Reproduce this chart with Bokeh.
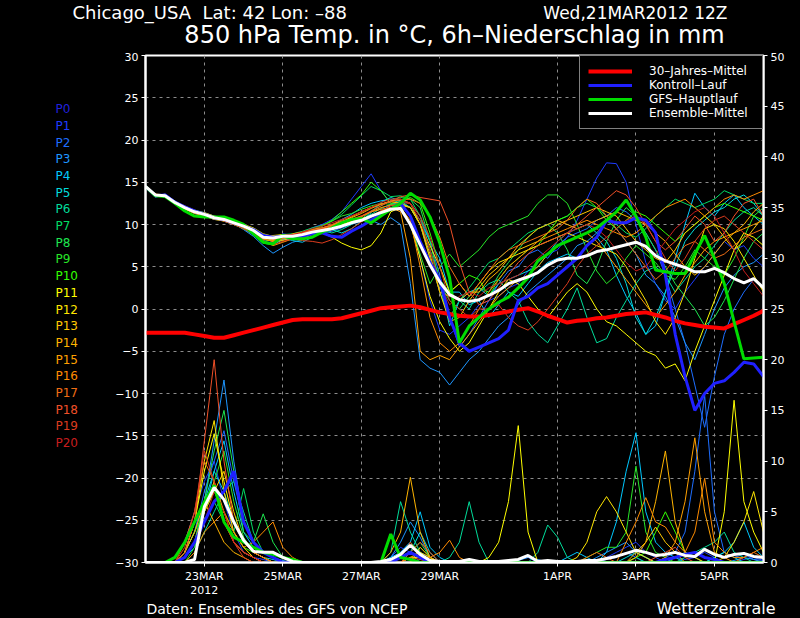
from bokeh.plotting import figure
from bokeh.layouts import column, row
from bokeh.models import Range1d, LinearAxis, FixedTicker, Legend, LegendItem
from bokeh.core.properties import value
from bokeh.embed import file_html
from bokeh.resources import INLINE

# ---------------- data ----------------
STEP_HOURS = 6
N_STEPS = 64
HOURS = [STEP_HOURS * i for i in range(N_STEPS)]  # 21MAR2012 12Z + h

DATE_TICKS = [36, 84, 132, 180, 252, 300, 348]
DATE_LABELS = ["23MAR", "25MAR", "27MAR", "29MAR", "1APR", "3APR", "5APR"]
YEAR_TICK = 36
YEAR_LABEL = "2012"
TEMP_TICKS = list(range(-30, 31, 5))
PRECIP_TICKS = list(range(0, 51, 5))

MEMBER_NAMES = ["P%d" % i for i in range(21)]
MEMBER_COLORS = ["#2020dc", "#1e3cff", "#1e6eff", "#1e96ff", "#00c8ff", "#00dcdc",
                 "#00dc9a", "#00dc64", "#1ee650", "#28e628", "#32ff00", "#ffff00",
                 "#ffe600", "#ffc800", "#ffb400", "#ffa000", "#ff8c00", "#f06e14",
                 "#f05028", "#dc3c1e", "#c81e1e"]

CLIMATE_T = [-2.8, -2.8, -2.8, -2.8, -2.8, -3.0, -3.2, -3.4, -3.4, -3.1, -2.8, -2.5, -2.2, -1.9, -1.6, -1.3,
             -1.2, -1.2, -1.2, -1.2, -1.1, -0.8, -0.5, -0.2, 0.1, 0.2, 0.3, 0.4, 0.2, -0.1, -0.4, -0.6,
             -0.8, -0.9, -0.9, -0.7, -0.5, -0.3, -0.1, 0.1, -0.3, -0.8, -1.2, -1.6, -1.4, -1.3, -1.1, -1.0,
             -0.8, -0.6, -0.5, -0.4, -0.7, -1.0, -1.4, -1.7, -1.9, -2.1, -2.2, -2.3, -1.8, -1.3, -0.8, -0.2]

MEAN_T = [14.5, 13.5, 13.4, 12.6, 12.0, 11.5, 11.2, 10.8, 10.6, 10.2, 9.8, 9.3, 8.5, 8.4, 8.6, 8.6,
          8.8, 9.1, 9.3, 9.5, 9.8, 10.2, 10.5, 11.0, 11.4, 11.8, 11.9, 10.0, 7.6, 5.2, 3.2, 1.7,
          1.1, 0.9, 1.1, 1.6, 2.2, 3.0, 3.4, 3.8, 4.3, 5.2, 5.8, 6.0, 6.0, 6.3, 6.8, 7.0,
          7.3, 7.6, 7.9, 7.4, 6.3, 5.7, 5.3, 4.9, 4.4, 4.4, 4.8, 4.3, 3.6, 3.1, 3.6, 2.5]

CONTROL_T = [14.5, 13.4, 13.5, 12.6, 12.1, 11.6, 11.2, 10.8, 10.6, 10.2, 9.8, 9.4, 8.7, 8.5, 8.6, 8.5,
             8.6, 8.9, 9.0, 8.6, 8.5, 9.2, 9.8, 10.5, 11.2, 11.8, 12.5,
             11, 8, 5.5, 3.5, -1, -4, -5, -4.5, -4, -3.5, -2.5, 1, 1.5, 2.5, 3, 4, 5, 6, 7.5, 8.5,
             10.5, 10.2, 10.2, 10.8, 10.5, 9, 4, -3, -8, -12, -10, -8.8, -8.5, -7.5, -6.3, -6.5, -8]

GFS_T = [14.5, 13.4, 13.3, 12.5, 11.6, 11.0, 10.9, 10.9, 10.9, 10.5, 10.0, 8.9, 7.9, 7.7, 8.7, 8.3,
         8.3, 8.5, 9.1, 9.6, 10.2, 10.6, 10.7, 10.2, 11.0, 11.8, 12.5,
         13.7, 12.9, 10.9, 7.8, 3.7, -4, -2, -1, 0, 0.8, 1.4, 2.5, 3.7, 5.7, 6.5, 7.5, 8, 8.5, 9, 9.6,
         10.5, 11.5, 12.9, 11, 8.5, 4.6, 4.4, 4.2, 4.2, 6.5, 8.7, 6, 3, -1.5, -5.9, -5.8, -5.7]

T_P1 = [14.5, 13.2, 13.6, 12.8, 12.2, 11.4, 11.0, 10.9, 10.4, 10.0, 9.6, 9.0, 8.2, 8.0, 8.9, 8.7, 9.0, 9.6, 10.0, 10.6, 11.5, 13.0, 14.5, 16.0, 14.0, 12.5, 12.2,
        11, 6, 1, -2.5, -3, -2, -1, 0.5, 1, 1.5, 2.5, 3, 4.5, 5.5, 6.5, 7, 8.5, 10.5, 13, 15.5, 17.3, 17.2, 15, 10, 5.5, 3, 1, 0, 2, 3.5, 5, 6.5, 8, 7, 7.5, 6, 5]
T_P2 = [14.5, 13.4, 13.3, 12.4, 11.8, 11.6, 11.1, 10.6, 10.5, 10.3, 9.9, 9.4, 8.0, 7.8, 8.3, 8.5, 8.6, 9.0, 9.0, 9.2, 9.6, 10.0, 10.4, 10.8, 11.6, 12.3, 12.8,
        12.5, 11, 8, 4, -1, -4.5, -3, -1, 1, 3, 4.5, 5, 6.5, 7, 6, 7.5, 8.5, 9, 9.5, 10.5, 11, 12, 11.5, 10.5, 9, 7, 4, 0, -4, -9, -14, -8, -3, 0, 2, 3.5, 2.5]
T_P3 = [14.5, 13.6, 13.2, 12.5, 11.9, 11.3, 11.0, 10.7, 10.7, 10.1, 9.4, 8.6, 7.5, 6.6, 7.3, 7.9, 8.2, 8.9, 9.1, 9.4, 9.9, 10.3, 10.6, 10.5, 10.0, 10.8, 10.0,
        3, -6, -7, -7.5, -9, -7.5, -6, -5, -3.5, -2, -1, 0.5, 2, 3, 4, 5, 6, 7.5, 8, 9, 10.5, 9.5, 8, 6.5, 4, 3, 1.5, -1, -4, -6, -3, 0, 2.5, 4, 5, 5.5, 6.5]
T_P4 = [14.5, 13.5, 13.5, 12.7, 12.1, 11.7, 11.4, 11.0, 10.8, 10.4, 9.9, 9.5, 8.8, 8.3, 8.4, 8.1, 7.9, 8.5, 9.3, 9.8, 10.6, 11.2, 12.0, 12.5, 12.8, 13.0, 12.5,
        12, 10.5, 8, 6, 2, 2, 0.5, 1, -1, 0.5, 2, 1.5, 3, 4.5, 5.5, 6, 6.5, 6, 7.5, 8.5, 7, 4, 1.5, -0.5, -3, -2, 2, 6, 10, 13.7, 12, 11, 12.5, 13.5, 12, 11, 10]
T_P5 = [14.5, 13.4, 13.5, 12.6, 12.0, 11.6, 11.3, 10.9, 10.4, 10.0, 9.5, 8.8, 7.8, 7.6, 8.2, 8.4, 8.7, 9.0, 9.6, 9.4, 9.0, 9.5, 10.4, 11.4, 12.6, 13.2, 12.8,
        12, 10, 7, 3, -2, 1, 2, 2.5, 1.5, 3, 3.5, 4, 4.5, 5, 6.5, 8, 9, 9.5, 10, 9, 8, 6, 3, -1, -3, -1, 2, 5, 8, 9.5, 10.5, 11.5, 12, 13, 13.5, 12.5, 11]
T_P6 = [14.5, 13.6, 13.3, 12.4, 11.8, 11.4, 11.2, 10.7, 10.6, 10.2, 9.8, 9.2, 8.4, 8.2, 8.3, 8.4, 8.6, 9.1, 9.3, 9.0, 9.4, 10.0, 10.6, 11.2, 11.9, 12.4, 12.6,
        12, 10, 6, 2, -1, 1, 0, 2, 3, 3.5, 2, 1, -1.5, -3, -4, -2, 0, 2.5, -1, -4, -3.5, -1, 1, 3, 4.5, 5, 4, 2, 3.5, 5, 6, 7.5, 9, 10.5, 11.5, 12, 11]
T_P7 = [14.5, 13.5, 13.4, 12.5, 12.1, 11.5, 11.0, 10.6, 10.5, 10.1, 9.7, 9.4, 8.7, 8.5, 8.8, 8.9, 9.2, 9.6, 9.9, 10.4, 11.2, 12.3, 13.4, 14.5, 14.0, 13.3, 13.4,
        13, 11, 7, 3.5, 2, 1, 2.5, 4, 5.5, 6, 7, 8, 9, 9.5, 10, 10.5, 11, 12, 12.5, 12, 11, 10, 9, 8.5, 9.5, 11, 12, 13, 12.5, 12, 12.5, 13, 14, 13.5, 13, 12.5, 12.5]
T_P8 = [14.5, 13.4, 13.6, 12.6, 11.9, 11.4, 11.1, 10.8, 10.7, 10.3, 9.8, 9.1, 8.3, 8.6, 8.8, 8.7, 8.9, 9.0, 9.2, 9.6, 10.1, 10.2, 10.6, 11.6, 12.2, 12.8, 13.2,
        13, 12, 8, 3, 1, 0, 1.5, 2.5, 2, 4, 5.5, 7, 8.5, 9.5, 10, 9, 7, 4, 3, 5, 8, 10.5, 12, 11, 9, 7, 5, 3, 1.5, 0, -2, -1, 1, 3.5, 6, 8, 9]
T_P9 = [14.5, 13.3, 13.5, 12.7, 12.0, 11.6, 11.3, 10.8, 10.5, 10.0, 9.5, 9.0, 8.0, 8.2, 8.6, 8.8, 9.0, 9.4, 9.8, 10.4, 11.0, 11.3, 11.8, 12.2, 12.5, 12.4, 12.2,
        10, 6.5, 3, 5, 6.5, 5, 6, 7, 8.5, 9.5, 10, 10.5, 11, 12.5, 13.5, 13.5, 12.5, 10, 7, 4.5, 3, 4, 6, 7.5, 6.5, 5.5, 4, 3.5, 5, 7, 6, 5, 4, 6, 8.5, 11, 12]
T_P10 = [14.5, 13.5, 13.3, 12.5, 12.0, 11.4, 11.0, 10.7, 10.4, 10.1, 9.6, 9.2, 8.4, 8.3, 8.5, 8.6, 8.8, 9.3, 9.8, 10.5, 11.5, 12.5, 13.5, 15.0, 14.0, 12.5, 12.7,
         13.2, 12.5, 9, 5, 2, 3, 4, 3.5, 1.5, 3.5, 5, 6, 7, 7.5, 9, 10.5, 11, 12, 13, 12, 10.5, 9.5, 10.5, 11.5, 11, 10, 9, 8, 9, 10, 11, 12, 12.5, 12, 11.5, 11, 10.5]
T_P11 = [14.5, 13.4, 13.4, 12.4, 11.9, 11.7, 11.3, 10.9, 10.8, 10.4, 10.0, 9.6, 8.9, 8.6, 8.7, 8.4, 8.5, 8.8, 9.0, 8.5, 7.8, 7.3, 7.0, 7.5, 9.0, 11.5, 12.0,
         10, 6, 1.5, -1.5, -3.5, -5, -4, -2, 0, 2, 3.5, 3, 1.5, 0, -1, 0.5, 2, 3, 2, 0, -1.5, -2, -3, -4, -5, -5.5, -7, -6.5, -8.5, -5, -2, 1, 4, 7, 9, 8.5, 7.5]
T_P12 = [14.5, 13.5, 13.5, 12.6, 12.0, 11.5, 11.2, 10.8, 10.6, 10.2, 9.8, 9.3, 8.6, 8.7, 8.8, 8.6, 8.8, 9.0, 9.4, 9.7, 10.0, 10.4, 10.7, 11.0, 11.6, 12.0, 12.3,
         12, 10, 7.5, 5, 2, 3, 1.5, 3, 4.5, 5.5, 6, 6.5, 7, 7.5, 8, 8.5, 9, 8.5, 8, 7.5, 7, 6.5, 5, 3, 1, -1.5, -3, -1, 2, 6, 9.5, 10, 9.5, 8, 6, 4, 2]
T_P13 = [14.5, 13.6, 13.4, 12.5, 11.9, 11.6, 11.4, 11.0, 10.7, 10.3, 9.9, 9.2, 8.3, 8.0, 8.1, 8.5, 8.7, 9.1, 9.4, 9.8, 10.3, 10.9, 11.5, 12.0, 12.4, 12.7, 12.5,
         12, 10, 6.5, 2, -1.5, -1, 1, 2.5, 4, 5, 6, 7, 7.5, 8, 9, 10, 10.5, 11, 11.5, 12, 11.5, 11, 9.5, 8, 7, 6, 5.5, 7, 9, 10, 11, 10, 8.5, 7, 8, 9.5, 11]
T_P14 = [14.5, 13.3, 13.5, 12.6, 12.1, 11.5, 11.2, 10.9, 10.5, 10.1, 9.8, 9.4, 8.5, 8.1, 8.4, 8.9, 9.1, 9.4, 9.6, 9.9, 10.3, 10.8, 11.3, 11.9, 12.4, 12.8, 13.0,
         12.5, 10, 6, 2, 1.5, 1, 2, 2, 3.5, 4.5, 6, 7.5, 8.5, 9.5, 10, 10.5, 10, 9.5, 10, 10.5, 11, 11.5, 11, 10.5, 10, 9, 8, 6.5, 5, 4, 5, 6.5, 8, 9, 10, 11.5, 12.5]
T_P15 = [14.5, 13.5, 13.3, 12.5, 11.8, 11.3, 11.0, 10.6, 10.4, 10.0, 9.6, 9.0, 8.1, 7.5, 7.9, 8.3, 8.6, 8.9, 9.1, 9.4, 9.8, 10.3, 10.9, 11.5, 11.8, 12.0, 11.5,
         6, -5, -6, -5.5, -6, -4.5, -3, -1.5, 0, 1.5, 2.5, 3.5, 4, 5, 6.5, 7.5, 8, 8.5, 9, 8, 6.5, 5, 3.5, 2, 0.5, -1, 0.5, 2, 4, 5.5, 7, 8, 8.5, 9, 9.5, 10, 10.5]
T_P16 = [14.5, 13.4, 13.4, 12.4, 11.9, 11.4, 11.0, 10.7, 10.5, 10.1, 9.7, 9.1, 8.3, 8.0, 8.3, 8.6, 8.8, 9.2, 9.5, 9.9, 10.4, 10.6, 11.0, 11.5, 12.0, 12.3, 12.0,
         10.5, 5, -1, -4, -5, -4, -2, 0, 2, 3.5, 5, 6, 7, 8, 8.5, 9, 9.5, 10, 10.5, 10, 9.5, 9, 8.5, 9, 10, 11, 12, 12.5, 13, 12, 11, 12, 13, 13.5, 13, 13.5, 14]
T_P17 = [14.5, 13.6, 13.5, 12.7, 12.2, 11.7, 11.3, 10.9, 10.7, 10.3, 9.9, 9.4, 8.6, 8.2, 8.4, 8.7, 9.0, 9.3, 9.6, 10.0, 10.5, 11.0, 11.5, 12.0, 12.4, 12.7, 12.9,
         13, 12.5, 11, 8.5, 5, 3, 1.5, 3, 4.5, 6, 7, 7.5, 8, 8.5, 9, 9.5, 10.5, 12, 13, 12.5, 11, 9.5, 8, 6.5, 5, 3.5, 4.5, 6, 7.5, 8, 7, 6, 6.5, 7.5, 8.5, 9, 9.5]
T_P18 = [14.5, 13.5, 13.5, 12.6, 12.0, 11.5, 11.1, 10.7, 10.6, 10.2, 9.8, 9.3, 8.6, 8.4, 8.7, 8.8, 9.0, 9.3, 9.5, 9.8, 10.2, 10.6, 11.0, 11.6, 12.2, 12.8, 13.3,
         13.5, 13.2, 13, 12.8, 10, 5.5, 2, 0.5, 1, 2.5, 4, 5.5, 6.5, 7.5, 8, 8.5, 9, 10, 11, 12, 13, 14, 13.5, 12, 10, 8, 7, 8, 9.5, 11, 10, 8, 9, 11, 12.5, 13, 11]
T_P19 = [14.5, 13.4, 13.6, 12.5, 11.9, 11.5, 11.1, 10.8, 10.4, 10.0, 9.5, 8.9, 7.9, 7.6, 8.0, 8.3, 8.1, 8.0, 7.8, 8.2, 8.8, 9.5, 10.3, 11.0, 11.6, 12.2, 12.6,
         12.5, 11, 8.5, 5, 1, 0, -1, 0, 0, 0.5, -1, -2, -2.5, -1.5, 0, 1.5, 3, 5, 6.5, 7.5, 8.5, 9.5, 10.5, 11, 10, 8, 6, 4.5, 6, 8, 9.5, 10.5, 11, 10, 9, 8, 7]
T_P20 = [14.5, 13.5, 13.4, 12.6, 12.0, 11.6, 11.2, 10.9, 10.5, 10.2, 9.8, 9.3, 8.6, 8.5, 8.7, 8.8, 9.1, 9.5, 9.8, 10.2, 10.6, 11.0, 11.5, 12.0, 12.6, 13.0, 13.0,
         12.5, 10.5, 7, 3, 0.5, 1.5, 2, 1.5, 2.5, 3, 3.5, 4, 5, 6, 7, 8, 9, 9.5, 10, 9.5, 8.5, 7, 5.5, 4.5, 5, 6.5, 8, 9.5, 10.5, 11.5, 12, 11, 9, 7, 4.5, 3, 1.5]

# 6h precipitation (mm), right axis
MEAN_RR = [0, 0, 0, 0, 0, 0.3, 5.5, 7.4, 6.2, 4.0, 2.2, 1.1, 1.0, 1.0, 0.5, 0.1,
           0, 0, 0, 0, 0, 0, 0, 0, 0.1, 0.3, 0.8, 1.7, 0.8, 0.2, 0.1, 0.1,
           0.1, 0.3, 0.1, 0.1, 0.1, 0.2, 0.3, 0.7, 0.1, 0.2, 0.1, 0.1, 0.1, 0.2, 0.2, 0.4,
           0.6, 0.9, 1.2, 1.0, 0.7, 0.8, 1.0, 0.7, 0.6, 1.3, 0.8, 0.5, 0.8, 0.9, 0.6, 0.5]
CONTROL_RR = [0, 0, 0, 0, 0.5, 2, 4, 6, 7, 9, 4, 2, 1, 0.5, 0, 0,
              0, 0, 0, 0, 0, 0, 0, 0, 0, 0, 0.5, 1, 0.5, 0, 0, 0,
              0, 0, 0, 0, 0, 0, 0, 0, 0, 0, 0, 0, 0, 0, 0, 0,
              0, 0, 0, 0, 0, 0.3, 0.5, 0.8, 1, 0.5, 0.3, 0, 0, 0, 0, 0]
GFS_RR = [0, 0, 0, 0.5, 2, 4, 6, 7.6, 4, 2.5, 2, 1.5, 1, 0.8, 0.5, 0.3,
          0, 0, 0, 0, 0, 0, 0, 0, 0, 2.8, 0.5, 0.3, 0, 0, 0, 0,
          0, 0, 0, 0, 0, 0, 0, 0, 0, 0, 0, 0, 0, 0, 0, 0,
          0, 0, 0, 0, 0, 0, 0, 0, 0, 0, 0, 0, 0, 0, 0, 0]

RR_P1 = [0, 0, 0, 0.5, 2, 5, 8, 10, 6, 3, 1, 0.5, 0.3, 0, 0, 0, 0, 0, 0, 0, 0, 0, 0, 0,
         0, 0.5, 1.5, 1, 0, 0, 0, 0, 0, 0, 0, 0, 0, 0, 0.3, 0.5, 0, 0, 0, 0, 0, 0, 0, 0.5,
         1, 1.5, 2, 1, 0.5, 0, 0.5, 0.3, 0.5, 1, 0.5, 0, 0, 0.3, 0.5, 0.2]
RR_P2 = [0, 0, 0, 0, 1, 3, 7, 10, 13, 8, 4, 2, 1, 0.5, 0, 0, 0, 0, 0, 0, 0, 0, 0, 0,
         0, 0, 1, 2, 1, 0, 0, 0, 0, 0, 0, 0, 0, 0, 0, 0, 0, 0, 0, 0, 0, 0, 0, 0.3,
         0.5, 1, 0.5, 0, 0, 0.5, 1, 3, 9, 16.5, 5, 1, 0.5, 0.8, 0.3, 0.2]
RR_P3 = [0, 0, 0, 0, 0.5, 2, 6, 12, 18, 10, 4, 2, 1, 0.5, 0.2, 0, 0, 0, 0, 0, 0, 0, 0, 0,
         0, 0.5, 2, 4, 2.5, 0.5, 0, 0, 0, 0, 0, 0, 0, 0, 0.2, 0.5, 0.3, 0, 0, 0, 0, 0, 0.5, 1,
         1.5, 2, 1, 0.5, 0, 0, 0.5, 1, 0.5, 0, 0, 0, 0.2, 0.5, 0.3, 0]
RR_P4 = [0, 0, 0, 0, 0.5, 1.5, 5, 9, 12, 7, 3, 1.5, 1, 0.5, 0, 0, 0, 0, 0, 0, 0, 0, 0, 0,
         0, 0.5, 1, 2, 5, 1.5, 0.5, 0, 0, 0, 0, 0, 0, 0, 0, 0, 0, 0, 0, 0.5, 1, 0.5, 0, 1,
         4, 9, 12.8, 5, 2, 1, 0.5, 0, 0, 0, 0.5, 1, 2, 4, 1.5, 0.5]
RR_P5 = [0, 0, 0, 0, 1, 3, 6, 9, 7, 4, 2, 1, 0.5, 0.3, 0, 0, 0, 0, 0, 0, 0, 0, 0, 0,
         0, 0, 0.5, 1, 3, 1, 0, 0, 0, 0, 0, 0, 0, 0, 0, 0, 0, 0, 0, 0, 0, 0, 0, 0,
         0, 0.5, 1, 0.5, 0, 0, 0, 0, 0, 0, 0.5, 1, 0.5, 0, 0, 0]
RR_P6 = [0, 0, 0, 0, 0, 1, 3, 5, 7, 8, 5, 2, 1, 0.5, 0, 0, 0, 0, 0, 0, 0, 0, 0, 0,
         0, 1, 6, 3, 1, 0.5, 0, 0.5, 2, 6, 2, 0, 0, 0, 0, 0, 1, 3.7, 2.5, 0.5, 0, 0, 0, 0,
         0, 0, 0.5, 0, 0, 0, 0, 0.5, 1, 1.5, 2, 3, 1, 0.5, 0, 0]
RR_P7 = [0, 0, 0, 0, 0.5, 2, 4, 6, 4, 3, 7.3, 3, 1, 0.5, 0, 0, 0, 0, 0, 0, 0, 0, 0, 0,
         0, 0, 0.5, 1, 0.5, 0, 0, 0, 0, 0, 0, 0, 0, 0, 0, 0, 0, 0, 0, 0, 0, 0, 0, 0,
         0, 0, 0, 0, 0, 0, 0, 0, 0, 0, 0, 0, 0, 0, 0, 0]
RR_P8 = [0, 0, 0, 0, 0.5, 2, 6, 11, 15, 9, 3, 2, 4.8, 2, 0.5, 0, 0, 0, 0, 0, 0, 0, 0, 0,
         0, 0, 0, 1, 2, 0.5, 0, 0, 0, 0, 0, 0, 0, 0, 0, 0, 0, 0, 0, 0, 0, 0, 0, 0,
         0, 0, 0, 0, 0, 0, 0, 0, 0, 0, 0, 0, 0, 0, 0, 0]
RR_P9 = [0, 0, 0, 0, 0, 1.5, 5, 8, 11, 6, 2.5, 1, 0.5, 0, 0, 0, 0, 0, 0, 0, 0, 0, 0, 0,
         0, 0, 0.5, 2, 1, 0, 0, 0, 0, 0, 0, 0, 0, 0, 0, 0, 0, 0, 0, 0, 0, 0.5, 1, 1.5,
         1.5, 3, 9.5, 3, 1, 0.5, 0, 0, 0, 0, 0, 0, 0, 0, 0, 0]
RR_P10 = [0, 0, 0, 0, 1, 3, 5, 7, 5, 3, 1.5, 1, 0.5, 0, 0, 0, 0, 0, 0, 0, 0, 0, 0, 0,
          0, 0, 0, 0.5, 0, 0, 0, 0, 0, 0, 0, 0, 0, 0, 0, 0, 0, 0, 0, 0, 0, 0, 0, 0,
          0, 0, 0.5, 1, 3, 5, 3, 1, 0.5, 0, 0, 0, 0, 0, 0, 0]
RR_P11 = [0, 0, 0, 0, 1, 4, 9, 12.7, 8, 4, 2, 1, 0.5, 0, 0, 0, 0, 0, 0, 0, 0, 0, 0, 0,
          0, 0, 0, 0.5, 0.5, 0.3, 0, 0, 0, 0, 0, 0.5, 2, 6, 13.5, 3, 0, 0, 0, 0, 0, 0, 0, 0,
          0, 0, 0, 0, 0, 0, 0, 0, 0, 0, 0, 5, 16, 6, 3, 1]
RR_P12 = [0, 0, 0, 0, 1, 4, 10, 14, 7, 3, 1.5, 0.5, 0, 0, 0, 0, 0, 0, 0, 0, 0, 0, 0, 0,
          0, 0, 0, 0, 1.5, 0.5, 0, 0, 0, 0, 0, 0, 0, 0, 0, 0, 0, 0, 0, 0, 0.5, 2, 5, 6.5,
          5, 3, 1, 0.5, 0, 0, 0, 0, 0, 0, 0, 0.5, 2, 4, 7, 3]
RR_P13 = [0, 0, 0, 0, 0.5, 2, 5, 7, 9, 5, 2, 1, 0.5, 0, 0, 0, 0, 0, 0, 0, 0, 0, 0, 0,
          0, 0, 0, 0.5, 1, 0.5, 0, 0, 0, 0, 0, 0, 0, 0, 0, 0, 0, 0, 0, 0, 0, 0, 0, 0,
          0, 0, 1, 2, 3.5, 2, 1, 0, 0, 0, 0, 0, 0, 0, 0, 0]
RR_P14 = [0, 0, 0, 0, 1, 3, 6, 4, 2, 1, 0.5, 0, 0, 0, 0, 0, 0, 0, 0, 0, 0, 0, 0, 0,
          0, 1, 3, 8.4, 3, 0.5, 0, 0, 0, 0, 0, 0, 0, 0, 0, 0, 0, 0, 0, 0, 0, 0, 0, 0,
          0, 0, 0.5, 2, 6, 11, 4, 1, 0.5, 0, 0, 0, 0, 0, 0, 0]
RR_P15 = [0, 0, 0, 0, 0.5, 2, 5, 8, 5, 2, 1, 0.5, 0, 0, 0, 0, 0, 0, 0, 0, 0, 0, 0, 0,
          0, 0, 0, 0, 0, 0, 0, 0, 0, 0, 0, 0, 0, 0, 0, 0, 0, 0, 0, 0, 0, 0, 0, 0,
          0, 0, 0, 0, 0, 0.5, 2, 6, 12.3, 5, 1, 0.5, 0, 0, 0, 0]
RR_P16 = [0, 0, 0, 0, 0, 1, 3, 4, 5, 3, 1.5, 2, 3, 4, 1.5, 0.5, 0, 0, 0, 0, 0, 0, 0, 0,
          0, 0, 0.5, 1, 0.5, 0.5, 1, 2.2, 0.5, 0, 0, 0, 0, 0, 0, 0, 0, 0, 0, 0, 0, 0, 0, 0,
          0, 2, 4, 6.4, 4, 3.5, 2, 1, 3, 8.3, 2, 1, 0.5, 0.5, 1, 1.5]
RR_P17 = [0, 0, 0, 0, 2, 5, 10, 8, 4, 2, 1, 0.5, 0, 0, 0, 0, 0, 0, 0, 0, 0, 0, 0, 0,
          0, 0, 0, 0.5, 0.3, 0, 0, 0, 0, 0, 0, 0, 0, 0, 0, 0, 0, 0, 0, 0, 0, 0.5, 1, 0.5,
          0, 0, 0, 0, 0, 0, 0, 0, 0, 0, 0, 0, 0, 0.5, 1, 0.5]
RR_P18 = [0, 0, 0, 0, 1, 4, 12, 20, 10, 4, 2, 1, 0.5, 0, 0, 0, 0, 0, 0, 0, 0, 0, 0, 0,
          0, 0, 0, 1, 2, 1, 0, 0, 0, 0, 0, 0, 0, 0, 0, 0, 0, 0, 0, 0, 0, 0, 0, 0,
          0, 0, 0, 0, 0.5, 1, 1.5, 0.5, 0, 0, 0, 0, 0, 0, 0, 0]
RR_P19 = [0, 0, 0, 0, 1.5, 5, 11, 8, 4, 2, 0.5, 0, 0, 0, 0, 0, 0, 0, 0, 0, 0, 0, 0, 0,
          0, 0, 0.5, 2, 0.5, 0, 0, 0, 0, 0, 0, 0, 0, 0, 0, 0, 0, 0, 0, 0, 0, 0, 0, 0,
          0, 0, 0, 0, 0, 0, 0, 0, 0, 0, 0, 0, 0, 0, 0, 0]
RR_P20 = [0, 0, 0, 0, 0.5, 2, 4, 7, 5, 2, 1, 0.5, 0, 0, 0, 0, 0, 0, 0, 0, 0, 0, 0, 0,
          0, 0, 0, 0, 0, 0, 0, 0, 0, 0, 0, 0, 0, 0, 0, 0, 0, 0, 0, 0, 0, 0, 0, 0,
          0, 0, 0, 0, 0, 0, 0, 0, 0, 0, 0, 0, 0, 0, 0, 0]

MEMBER_T = [T_P1, T_P2, T_P3, T_P4, T_P5, T_P6, T_P7, T_P8, T_P9, T_P10,
            T_P11, T_P12, T_P13, T_P14, T_P15, T_P16, T_P17, T_P18, T_P19, T_P20]
MEMBER_RR = [RR_P1, RR_P2, RR_P3, RR_P4, RR_P5, RR_P6, RR_P7, RR_P8, RR_P9, RR_P10,
             RR_P11, RR_P12, RR_P13, RR_P14, RR_P15, RR_P16, RR_P17, RR_P18, RR_P19, RR_P20]

TITLE_LEFT = "Chicago_USA\u00a0 Lat: 42 Lon: \u201388"
TITLE_RIGHT = "Wed,21MAR2012 12Z"
TITLE_MAIN = "850 hPa Temp. in °C, 6h\u2013Niederschlag in mm"
FOOT_LEFT = "Daten: Ensembles des GFS von NCEP"
FOOT_RIGHT = "Wetterzentrale"
LEGEND_LABELS = ["30\u2013Jahres\u2013Mittel", "Kontroll\u2013Lauf", "GFS\u2013Hauptlauf", "Ensemble\u2013Mittel"]

# ---------------- layout ----------------
W, H = 800, 618
TOP_H = 52          # title strip
FOOT_H = 18         # footer strip
SIDE_W = 108        # member-name strip left of the chart
MAIN_W = W - SIDE_W
MAIN_H = H - TOP_H - FOOT_H
BL, BR, BT, BB = 37, 37, 3, 38
X0, X1 = 0, 378
Y0, Y1 = -30, 30
FONT = "DejaVu Sans"
BLACK = {"background-color": "black"}


def strip(width, height):
    f = figure(width=width, height=height, x_range=Range1d(0, width), y_range=Range1d(height, 0),
               x_axis_type=None, y_axis_type=None, output_backend="svg", toolbar_location=None,
               background_fill_color="black", border_fill_color="black",
               min_border_left=0, min_border_right=0, min_border_top=0, min_border_bottom=0,
               styles=BLACK)
    f.outline_line_color = None
    return f


def xy(vals):
    n = min(len(vals), len(HOURS))
    return HOURS[:n], list(vals[:n])


# title strip (coordinates: pixels of the page)
top = strip(W, TOP_H)
top.text(x=[72], y=[12], text=[TITLE_LEFT], text_color="white", text_font=value(FONT),
         text_font_size="18px", text_align="left", text_baseline="middle")
top.text(x=[727], y=[12], text=[TITLE_RIGHT], text_color="white", text_font=value(FONT),
         text_font_size="17px", text_align="right", text_baseline="middle")
top.text(x=[454], y=[34], text=[TITLE_MAIN], text_color="white", text_font=value(FONT),
         text_font_size="24px", text_align="center", text_baseline="middle")

# member-name strip
side = strip(SIDE_W, MAIN_H)
side.text(x=[55] * len(MEMBER_NAMES), y=[58 + 18.05 * i for i in range(len(MEMBER_NAMES))],
          text=MEMBER_NAMES, text_color=MEMBER_COLORS, text_font=value(FONT),
          text_font_size="12px", text_align="left", text_baseline="middle")

# footer strip
foot = strip(W, FOOT_H)
foot.text(x=[146], y=[8], text=[FOOT_LEFT], text_color="white", text_font=value(FONT),
          text_font_size="14px", text_align="left", text_baseline="middle")
foot.text(x=[775], y=[8], text=[FOOT_RIGHT], text_color="white", text_font=value(FONT),
          text_font_size="16px", text_align="right", text_baseline="middle")

# main chart
p = figure(width=MAIN_W, height=MAIN_H, x_range=Range1d(X0, X1), y_range=Range1d(Y0, Y1),
           output_backend="svg", toolbar_location=None,
           background_fill_color="black", border_fill_color="black",
           min_border_left=BL, min_border_right=BR, min_border_top=BT, min_border_bottom=BB,
           styles=BLACK)
p.extra_y_ranges = {"precip": Range1d(0, 50)}
p.outline_line_color = "white"
p.outline_line_width = 2

right = LinearAxis(y_range_name="precip", ticker=FixedTicker(ticks=PRECIP_TICKS))
p.add_layout(right, "right")

p.xaxis.ticker = FixedTicker(ticks=DATE_TICKS)
p.xaxis.major_label_overrides = {t: l for t, l in zip(DATE_TICKS, DATE_LABELS)}
p.yaxis[0].ticker = FixedTicker(ticks=TEMP_TICKS)

for ax in p.xaxis + p.yaxis:
    ax.axis_line_color = "white"
    ax.axis_line_width = 2
    ax.major_tick_line_color = "white"
    ax.major_tick_out = 4
    ax.major_tick_in = 0
    ax.minor_tick_line_color = None
    ax.major_label_text_color = "white"
    ax.major_label_text_font = FONT
    ax.major_label_text_font_size = "11px"
    ax.major_label_standoff = 3

year_axis = LinearAxis(ticker=FixedTicker(ticks=[YEAR_TICK]),
                       major_label_overrides={YEAR_TICK: YEAR_LABEL})
year_axis.axis_line_color = None
year_axis.major_tick_line_color = None
year_axis.minor_tick_line_color = None
year_axis.major_tick_out = 0
year_axis.major_tick_in = 0
year_axis.major_label_standoff = 0
year_axis.major_label_text_color = "white"
year_axis.major_label_text_font = FONT
year_axis.major_label_text_font_size = "11px"
p.add_layout(year_axis, "below")

p.xgrid.ticker = FixedTicker(ticks=DATE_TICKS)
p.ygrid.ticker = FixedTicker(ticks=TEMP_TICKS[1:-1])
for g in (p.xgrid[0], p.ygrid[0]):
    g.grid_line_color = "#8c8c8c"
    g.grid_line_dash = "3 4"
    g.grid_line_width = 1

# members: temperature and precipitation
for vals, rr, col in zip(MEMBER_T, MEMBER_RR, MEMBER_COLORS[1:]):
    xs, ys = xy(vals)
    p.line(xs, ys, line_color=col, line_width=1)
    xs, ys = xy(rr)
    p.line(xs, ys, line_color=col, line_width=1, y_range_name="precip")

xs, ys = xy(CLIMATE_T)
r_clim = p.line(xs, ys, line_color="#ff0000", line_width=4)

xs, ys = xy(CONTROL_T)
r_ctrl = p.line(xs, ys, line_color="#2020ff", line_width=3)
xs, ys = xy(CONTROL_RR)
p.line(xs, ys, line_color="#2020ff", line_width=3, y_range_name="precip")

xs, ys = xy(GFS_T)
r_gfs = p.line(xs, ys, line_color="#00dc00", line_width=3)
xs, ys = xy(GFS_RR)
p.line(xs, ys, line_color="#00dc00", line_width=3, y_range_name="precip")

xs, ys = xy(MEAN_T)
r_mean = p.line(xs, ys, line_color="white", line_width=3)
xs, ys = xy(MEAN_RR)
p.line(xs, ys, line_color="white", line_width=3, y_range_name="precip")

legend = Legend(items=[LegendItem(label=LEGEND_LABELS[0], renderers=[r_clim]),
                       LegendItem(label=LEGEND_LABELS[1], renderers=[r_ctrl]),
                       LegendItem(label=LEGEND_LABELS[2], renderers=[r_gfs]),
                       LegendItem(label=LEGEND_LABELS[3], renderers=[r_mean])],
                location="top_right", margin=0, padding=8, spacing=0,
                glyph_width=44, glyph_height=14, label_height=14, label_width=105,
                label_standoff=17,
                label_text_color="white", label_text_font=FONT, label_text_font_size="12px",
                border_line_color="white", border_line_width=1,
                background_fill_color="black", background_fill_alpha=1.0)
p.add_layout(legend)

page = column(top, row(side, p, styles=BLACK), foot, styles=BLACK)

open("out.html", "w").write(file_html(page, INLINE))
